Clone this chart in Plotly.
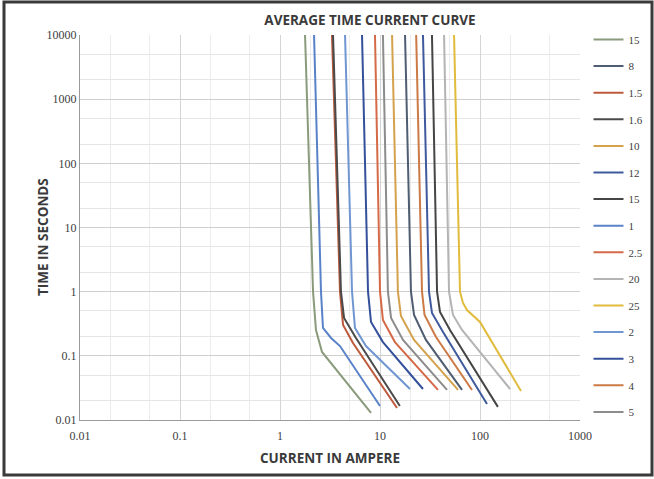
import plotly.graph_objects as go

# ---- data (current in A, time in s) ----
legend_names = ["15", "8", "1.5", "1.6", "10", "12", "15", "1", "2.5", "20", "25", "2", "3", "4", "5"]

cur_15a = [1.78, 2.14, 2.29, 2.63, 8.13]
time_15a = [10000, 1, 0.253, 0.115, 0.0129]

cur_8 = [17.8, 20.4, 21.9, 28.8, 66.1]
time_8 = [10000, 1, 0.433, 0.177, 0.0294]

cur_1_5 = [3.31, 3.98, 4.27, 5.37, 14.8]
time_1_5 = [10000, 1, 0.303, 0.158, 0.0154]

cur_1_6 = [3.39, 4.07, 4.37, 5.75, 15.8]
time_1_6 = [10000, 1, 0.389, 0.190, 0.0165]

cur_10 = [13.2, 15.1, 16.2, 21.9, 60.3]
time_10 = [10000, 1, 0.418, 0.177, 0.0294]

cur_12 = [26.9, 30.9, 33.1, 42.7, 117.5]
time_12 = [10000, 1, 0.465, 0.235, 0.0178]

cur_15b = [33.1, 37.2, 39.8, 50.1, 151]
time_15b = [10000, 1, 0.482, 0.253, 0.0160]

cur_1 = [2.19, 2.57, 2.69, 3.24, 3.98, 10.0]
time_1 = [10000, 1, 0.272, 0.190, 0.142, 0.0165]

cur_2_5 = [8.91, 10.0, 10.7, 14.1, 38.0]
time_2_5 = [10000, 1, 0.362, 0.164, 0.0294]

cur_20 = [43.7, 49.0, 53.7, 66.1, 200]
time_20 = [10000, 1, 0.433, 0.253, 0.0304]

cur_25 = [55.0, 63.1, 67.6, 74.1, 100, 257]
time_25 = [10000, 1, 0.667, 0.518, 0.337, 0.0283]

cur_2 = [4.47, 5.25, 5.62, 7.24, 19.95]
time_2 = [10000, 1, 0.272, 0.142, 0.0304]

cur_3 = [6.61, 7.59, 8.13, 10.7, 26.9]
time_3 = [10000, 1, 0.337, 0.164, 0.0304]

cur_4 = [23.0, 26.3, 27.9, 36.3, 83.2]
time_4 = [10000, 1, 0.433, 0.197, 0.0294]

cur_5 = [10.7, 12.0, 12.9, 16.98, 46.8]
time_5 = [10000, 1, 0.389, 0.177, 0.0294]

series_currents = [cur_15a, cur_8, cur_1_5, cur_1_6, cur_10, cur_12, cur_15b, cur_1,
                   cur_2_5, cur_20, cur_25, cur_2, cur_3, cur_4, cur_5]
series_times = [time_15a, time_8, time_1_5, time_1_6, time_10, time_12, time_15b, time_1,
                time_2_5, time_20, time_25, time_2, time_3, time_4, time_5]

colors = ["#8a9b7c", "#4f5d72", "#bd5a3c", "#4a4a4a", "#d4a24c", "#3f5a9c", "#454545",
          "#5a82c8", "#d46a48", "#b4b4b4", "#e0bb3c", "#7096d2", "#34509a", "#cc7a46", "#8c8c8c"]

tick_vals = [0.01, 0.1, 1, 10, 100, 1000, 10000]
tick_text = ["0.01", "0.1", "1", "10", "100", "1000", "10000"]

fig = go.Figure()
for i, (name, xs, ts) in enumerate(zip(legend_names, series_currents, series_times)):
    fig.add_trace(go.Scatter(
        x=xs, y=ts, mode="lines", name=name,
        line=dict(color=colors[i], width=2),
        legendgroup="g%d" % i,
    ))

tick_font = dict(family="Liberation Serif", size=12, color="#404040")
title_font = dict(family="Open Sans", size=13.5, color="#3a3a3a")

fig.update_layout(
    width=654, height=479,
    margin=dict(l=80, r=74, t=35, b=59, autoexpand=False),
    paper_bgcolor="white", plot_bgcolor="white",
    showlegend=True,
    legend=dict(x=1.017, y=1.026, xanchor="left", yanchor="top",
                font=dict(family="Liberation Serif", size=11, color="#404040"),
                tracegroupgap=7.6, itemwidth=30, maxheight=479,
                bgcolor="rgba(0,0,0,0)"),
    title=dict(text="<b>AVERAGE TIME CURRENT CURVE</b>", x=370 / 654, xanchor="center",
               y=1 - 20 / 479, yanchor="middle", font=title_font),
    xaxis=dict(type="log", range=[-2, 3], tickvals=tick_vals[:6], ticktext=tick_text[:6],
               tickfont=tick_font, showgrid=True, gridcolor="#d4d4d4", gridwidth=1,
               minor=dict(showgrid=True, gridcolor="#ececec", ticks=""),
               ticklabelstandoff=5,
               showline=True, linecolor="#9a9a9a", linewidth=1, ticks="", zeroline=False),
    yaxis=dict(type="log", range=[-2, 4], tickvals=tick_vals, ticktext=tick_text,
               tickfont=tick_font, showgrid=True, gridcolor="#cfcfcf", gridwidth=1,
               minor=dict(showgrid=True, gridcolor="#e6e6e6", ticks=""),
               showline=True, linecolor="#9a9a9a", linewidth=1, ticks="", zeroline=False),
    annotations=[
        dict(text="<b>CURRENT IN AMPERE</b>", xref="paper", yref="paper", x=0.5,
             y=(420 - 458) / 385, xanchor="center", yanchor="middle", showarrow=False,
             font=title_font),
        dict(text="<b>TIME IN SECONDS</b>", xref="paper", yref="paper", x=(43 - 80) / 500,
             y=(420 - 237) / 385, xanchor="center", yanchor="middle", showarrow=False,
             textangle=-90, font=title_font),
    ],
    shapes=[
        dict(type="rect", xref="paper", yref="paper", x0=-0.152, x1=1.144, y0=-0.143, y1=1.086,
             line=dict(color="#3a3a3a", width=3), fillcolor="rgba(0,0,0,0)", layer="below"),
    ],
)

fig.write_html("out.html", config={"displayModeBar": False},
               post_script="document.body.style.margin='0';")
